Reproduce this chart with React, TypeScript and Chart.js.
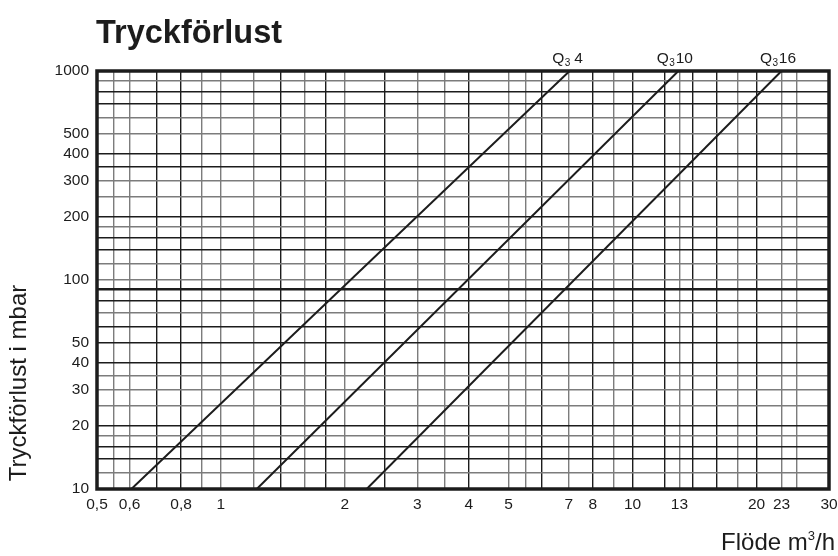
import { useEffect, useRef } from "react";
import { Chart, registerables } from "chart.js";

Chart.register(...registerables);

// ---- data ----
const flowGrid = [0.5, 0.55, 0.6, 0.7, 0.8, 0.9, 1, 1.2, 1.4, 1.6, 1.8, 2, 2.5, 3, 3.5, 4, 5, 5.5, 6, 7, 8, 9, 10, 12, 13, 14, 16, 18, 20, 23, 25, 30];
const flowLabels = [0.5, 0.6, 0.8, 1, 2, 3, 4, 5, 7, 8, 10, 13, 20, 23, 30];
const pressureGrid = [10, 12, 14, 16, 18, 20, 25, 30, 35, 40, 50, 60, 70, 80, 90, 100, 120, 140, 160, 180, 200, 250, 300, 350, 400, 500, 600, 700, 800, 900, 1000];
const pressureLabels = [10, 20, 30, 40, 50, 100, 200, 300, 400, 500, 1000];
const pressureEnds = [10, 1000];
const flowQ4 = [0.606, 7.03];
const flowQ10 = [1.222, 12.92];
const flowQ16 = [2.26, 23.0];
const seriesNames = ["4", "10", "16"];

// ---- style ----
const darkX = [0.7, 0.8, 1.4, 1.8, 2.5, 4, 6, 8, 10, 12, 14, 16, 20];
const darkY = [800, 700, 400, 350, 200, 160, 140, 90, 80, 60, 50, 40, 20, 16, 14];
const FONT = '"Liberation Sans", Arial, Helvetica, sans-serif';
const INK = "#1c1c1c";
const GREY = "#7c7c7c";

const near = (a: number, b: number) => Math.abs(a - b) < 1e-6;
const inList = (list: number[], v: number) => list.some((x) => near(x, v));

export default function App() {
  const ref = useRef<HTMLCanvasElement | null>(null);

  useEffect(() => {
    document.body.style.margin = "0";
    const canvas = ref.current;
    if (!canvas) return;

    const series = [flowQ4, flowQ10, flowQ16];

    const overlay = {
      id: "overlay",
      afterDraw(chart: any) {
        const { ctx, chartArea } = chart;
        const xs = chart.scales.x;
        ctx.save();
        // frame
        ctx.strokeStyle = INK;
        ctx.lineWidth = 3.5;
        ctx.strokeRect(chartArea.left, chartArea.top, chartArea.right - chartArea.left, chartArea.bottom - chartArea.top);

        ctx.fillStyle = INK;
        // title
        ctx.font = `bold 32.5px ${FONT}`;
        ctx.textAlign = "left";
        ctx.textBaseline = "alphabetic";
        ctx.fillText("Tryckförlust", 96, 43);

        // y axis title
        ctx.save();
        ctx.translate(26, 383);
        ctx.rotate(-Math.PI / 2);
        ctx.font = `24px ${FONT}`;
        ctx.textAlign = "center";
        ctx.textBaseline = "alphabetic";
        ctx.fillText("Tryckförlust i mbar", 0, 0);
        ctx.restore();

        // x axis title with superscript
        ctx.font = `24px ${FONT}`;
        const p1 = "Flöde m";
        const p3 = "/h";
        const w1 = ctx.measureText(p1).width;
        const w3 = ctx.measureText(p3).width;
        ctx.font = `13px ${FONT}`;
        const w2 = ctx.measureText("3").width;
        const end = 835;
        const start = end - w1 - w2 - w3;
        const base = 550;
        ctx.font = `24px ${FONT}`;
        ctx.textAlign = "left";
        ctx.fillText(p1, start, base);
        ctx.fillText(p3, start + w1 + w2, base);
        ctx.font = `13px ${FONT}`;
        ctx.fillText("3", start + w1, base - 10);

        // series labels Q3 x
        series.forEach((s, i) => {
          const px = xs.getPixelForValue(s[1]);
          ctx.font = `15.5px ${FONT}`;
          const wq = ctx.measureText("Q").width;
          const wn = ctx.measureText(" " + seriesNames[i]).width;
          ctx.font = `10px ${FONT}`;
          const ws = ctx.measureText("3").width;
          const total = wq + ws + wn;
          const x0 = px - 2 - total / 2;
          const by = chartArea.top - 8;
          ctx.font = `15.5px ${FONT}`;
          ctx.fillText("Q", x0, by);
          ctx.fillText(" " + seriesNames[i], x0 + wq + ws - (seriesNames[i].length > 1 ? 3 : 0), by);
          ctx.font = `10px ${FONT}`;
          ctx.fillText("3", x0 + wq + 0.5, by + 3);
        });
        ctx.restore();
      },
    };

    const chart = new Chart(canvas, {
      type: "line",
      data: {
        datasets: series.map((s, i) => ({
          label: "Q3 " + seriesNames[i],
          data: s.map((x, j) => ({ x, y: pressureEnds[j] })),
          borderColor: INK,
          borderWidth: 2,
          pointRadius: 0,
          fill: false,
          tension: 0,
        })),
      },
      options: {
        animation: false,
        responsive: false,
        events: [],
        layout: { padding: { top: 71, right: 9, left: 0, bottom: 0 } },
        plugins: {
          legend: { display: false },
          tooltip: { enabled: false },
          title: { display: false },
        },
        scales: {
          x: {
            type: "logarithmic",
            min: 0.5,
            max: 30,
            afterBuildTicks: (s: any) => {
              s.ticks = flowGrid.map((v) => ({ value: v }));
            },
            afterFit: (s: any) => {
              s.height = 67;
              s.paddingLeft = 0;
              s.paddingRight = 0;
            },
            ticks: {
              autoSkip: false,
              maxRotation: 0,
              minRotation: 0,
              padding: 6,
              color: INK,
              font: { family: FONT, size: 15.5 },
              callback: (v: any) => (inList(flowLabels, Number(v)) ? String(v).replace(".", ",") : ""),
            },
            grid: {
              drawTicks: false,
              lineWidth: 1.4,
              color: (c: any) => (inList(darkX, c.tick?.value) ? INK : GREY),
            },
            border: { display: false },
          },
          y: {
            type: "logarithmic",
            min: 10,
            max: 1000,
            afterBuildTicks: (s: any) => {
              s.ticks = pressureGrid.map((v) => ({ value: v }));
            },
            afterFit: (s: any) => {
              s.width = 97;
              s.paddingTop = 0;
              s.paddingBottom = 0;
            },
            ticks: {
              autoSkip: false,
              padding: 8,
              color: INK,
              font: { family: FONT, size: 15.5 },
              callback: (v: any) => (inList(pressureLabels, Number(v)) ? String(v) : ""),
            },
            grid: {
              drawTicks: false,
              lineWidth: (c: any) => (near(c.tick?.value, 90) ? 2.4 : 1.4),
              color: (c: any) => (inList(darkY, c.tick?.value) ? INK : GREY),
            },
            border: { display: false },
          },
        },
      },
      plugins: [overlay],
    } as any);

    return () => chart.destroy();
  }, []);

  return (
    <div style={{ position: "absolute", left: 0, top: 0, width: 838, height: 556, background: "#fff" }}>
      <canvas ref={ref} width={838} height={556} style={{ display: "block" }} />
    </div>
  );
}
